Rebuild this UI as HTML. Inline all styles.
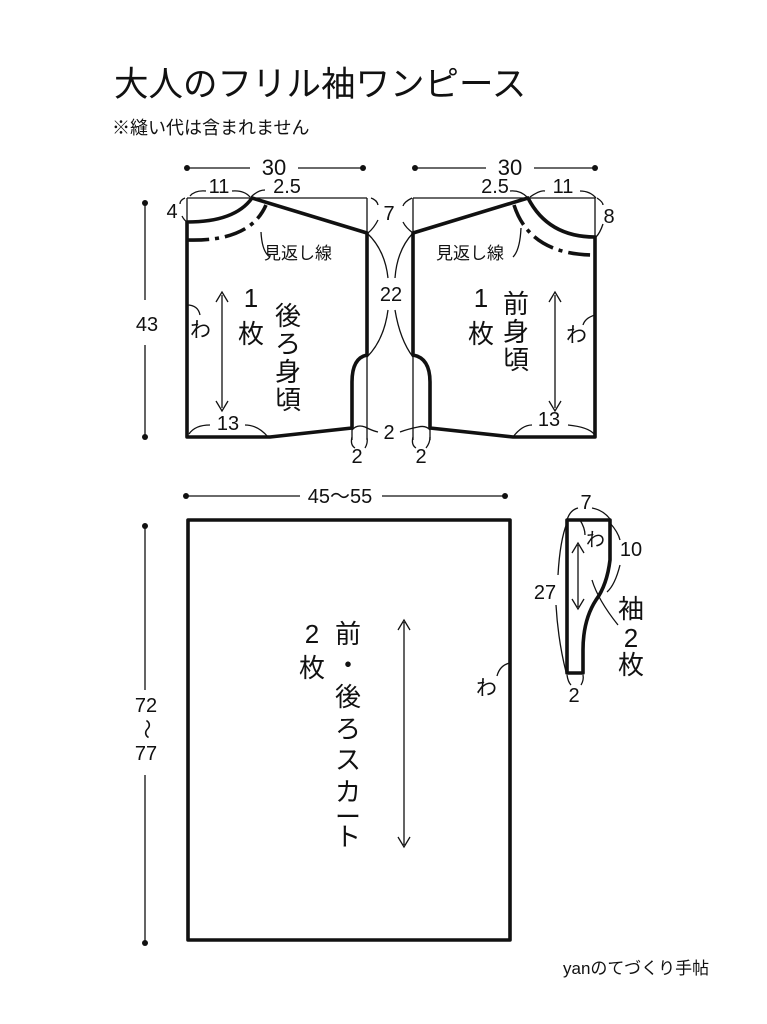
<!DOCTYPE html>
<html><head><meta charset="utf-8"><style>
html,body{margin:0;padding:0;background:#fff;width:767px;height:1024px;overflow:hidden}
svg{display:block}
text{font-family:"Liberation Sans","Noto Sans CJK JP",sans-serif;fill:#111}
</style></head><body>
<svg width="767" height="1024" viewBox="0 0 767 1024" xmlns="http://www.w3.org/2000/svg">
<text x="114" y="96" font-size="34.5">大人のフリル袖ワンピース</text>
<text x="112" y="134" font-size="18">※縫い代は含まれません</text>

<g stroke="#111" fill="none" stroke-width="1.3">
<line x1="187" y1="168" x2="250" y2="168"/><line x1="298" y1="168" x2="363" y2="168"/>
<line x1="415" y1="168" x2="486" y2="168"/><line x1="534" y1="168" x2="595" y2="168"/>
<line x1="145" y1="203" x2="145" y2="300"/><line x1="145" y1="345" x2="145" y2="437"/>
<line x1="187" y1="198" x2="367" y2="198"/><line x1="367" y1="198" x2="367" y2="440"/>
<line x1="187" y1="198" x2="187" y2="222"/>
<line x1="413" y1="198" x2="595" y2="198"/><line x1="413" y1="198" x2="413" y2="440"/>
<line x1="595" y1="198" x2="595" y2="237"/>
<line x1="352" y1="428" x2="352" y2="440"/><line x1="430" y1="428" x2="430" y2="440"/>
<path d="M190 196 Q195 190 206 191 M232 191 Q244 190 250 197"/>
<path d="M251 197 Q258 190 265 190"/>
<path d="M185 198 Q180 200 180 204 M182 216 Q184 220 187 222"/>
<path d="M371 198 Q377 200 378 205 M378 220 Q374 228 368 233"/>
<path d="M412 198 Q404 202 403 206 M403 222 Q406 228 413 233"/>
<path d="M597 198 Q603 202 603 205 M603 224 Q600 233 596 237"/>
<path d="M510 191 Q520 190 527 197 M530 197 Q540 190 545 191 M580 191 Q590 191 596 198"/>
<path d="M367 233 Q385 250 388 278 M388 310 Q384 340 367 357"/>
<path d="M413 233 Q397 250 395 278 M395 310 Q400 340 413 357"/>
<path d="M189 434 Q195 425 210 425 M245 425 Q258 425 268 437"/>
<path d="M513 437 Q522 425 532 425 M568 425 Q588 427 594 434"/>
<path d="M352 430 Q357 424 365 427 Q373 431 378 432 M400 432 Q408 429 418 427 Q426 425 430 430"/>
<path d="M352 437 Q350 445 355 448 M365 448 Q368 443 367 438"/>
<path d="M413 437 Q411 445 416 448 M426 448 Q430 443 430 437"/>
<path d="M261 232 Q262 252 270 257"/>
<path d="M513 257 Q520 250 521 228"/>
<path d="M187 305 Q198 305 200 315"/>
<path d="M595 315 Q585 318 583 325"/>
<path d="M222 295 V408 M216 302 L222 292 L228 302 M216 401 L222 411 L228 401"/>
<path d="M555 295 V408 M549 302 L555 292 L561 302 M549 401 L555 411 L561 401"/>
<line x1="186" y1="496" x2="300" y2="496"/><line x1="382" y1="496" x2="505" y2="496"/>
<line x1="145" y1="526" x2="145" y2="690"/><line x1="145" y1="775" x2="145" y2="942"/>
<path d="M404 622 V845 M398 630 L404 620 L410 630 M398 837 L404 847 L410 837"/>
<path d="M510 663 Q500 665 497 676"/>
<path d="M567 520 Q570 510 578 508 M592 508 Q603 510 610 519"/>
<path d="M610 523 Q618 532 620 540 M620 565 Q615 585 607 592"/>
<path d="M567 523 Q560 540 558 575 M556 605 Q558 640 566 672"/>
<path d="M567 675 Q568 682 571 685 M581 685 Q584 680 583 675"/>
<path d="M580 520 Q585 528 585 535"/>
<path d="M592 580 Q598 600 618 625"/>
<path d="M578 545 V607 M572 553 L578 543 L584 553 M572 599 L578 609 L584 599"/>
</g>
<g fill="#111">
<circle cx="187" cy="168" r="3"/><circle cx="363" cy="168" r="3"/>
<circle cx="415" cy="168" r="3"/><circle cx="595" cy="168" r="3"/>
<circle cx="145" cy="203" r="3"/><circle cx="145" cy="437" r="3"/>
<circle cx="186" cy="496" r="3"/><circle cx="505" cy="496" r="3"/>
<circle cx="145" cy="526" r="3"/><circle cx="145" cy="943" r="3"/>
</g>
<g stroke="#111" fill="none" stroke-width="3.6" stroke-linejoin="round">
<path d="M252 198 Q235 222 187 222 V437 H270 L352 428 V382 Q352 358 367 355 V233 Z" />
<path d="M528 198 Q548 237 595 237 V437 H513 L430 428 V382 Q430 358 413 355 V233 Z" />
<rect x="188" y="520" width="322" height="420"/>
<path d="M567 520 H610 V560 Q607 585 596 600 Q583 620 583 650 V673 H567 Z"/>
</g>
<g stroke="#111" fill="none" stroke-width="3.6" stroke-dasharray="22 6 4 6">
<path d="M187 240 Q250 242 266 205"/>
<path d="M514 205 Q530 255 595 255"/>
</g>
<g font-size="20">
<text x="274" y="175" text-anchor="middle" font-size="22">30</text>
<text x="510" y="175" text-anchor="middle" font-size="22">30</text>
<text x="219" y="193" text-anchor="middle">11</text>
<text x="287" y="193" text-anchor="middle">2.5</text>
<text x="495" y="193" text-anchor="middle">2.5</text>
<text x="563" y="193" text-anchor="middle">11</text>
<text x="172" y="218" text-anchor="middle">4</text>
<text x="389" y="220" text-anchor="middle">7</text>
<text x="609" y="223" text-anchor="middle">8</text>
<text x="391" y="301" text-anchor="middle">22</text>
<text x="147" y="331" text-anchor="middle">43</text>
<text x="228" y="430" text-anchor="middle">13</text>
<text x="549" y="426" text-anchor="middle">13</text>
<text x="389" y="439" text-anchor="middle">2</text>
<text x="357" y="463" text-anchor="middle">2</text>
<text x="421" y="463" text-anchor="middle">2</text>
<text x="340" y="503" text-anchor="middle">45〜55</text>
<text x="146" y="712" text-anchor="middle">72</text>
<text x="146" y="735" text-anchor="middle" transform="rotate(90 146 729)">〜</text>
<text x="146" y="760" text-anchor="middle">77</text>
<text x="586" y="509" text-anchor="middle">7</text>
<text x="631" y="556" text-anchor="middle">10</text>
<text x="545" y="599" text-anchor="middle">27</text>
<text x="574" y="702" text-anchor="middle">2</text>
</g>
<g font-size="17">
<text x="264" y="259">見返し線</text>
<text x="436" y="259">見返し線</text>
<text x="563" y="974" font-size="17">yanのてづくり手帖</text>
</g>
<g font-size="21">
<text x="190" y="337">わ</text>
<text x="566" y="342">わ</text>
<text x="476" y="695">わ</text>
<text x="586" y="546" font-size="19">わ</text>
</g>
<g font-size="26" text-anchor="middle">
<text x="251" y="307">1</text><text x="251" y="343">枚</text>
<text x="288" y="325">後</text><text x="288" y="353">ろ</text><text x="288" y="381">身</text><text x="288" y="409">頃</text>
<text x="481" y="307">1</text><text x="481" y="343">枚</text>
<text x="516" y="313">前</text><text x="516" y="341">身</text><text x="516" y="369">頃</text>
<text x="312" y="643">2</text><text x="312" y="677">枚</text>
<text x="348" y="643">前</text><text x="348" y="674">・</text><text x="348" y="706">後</text><text x="348" y="738">ろ</text><text x="348" y="769">ス</text><text x="348" y="801">カ</text><text x="348" y="826">ー</text><text x="348" y="846">ト</text>
<text x="631" y="618">袖</text><text x="631" y="647">2</text><text x="631" y="674">枚</text>
</g>
</svg>
</body></html>
